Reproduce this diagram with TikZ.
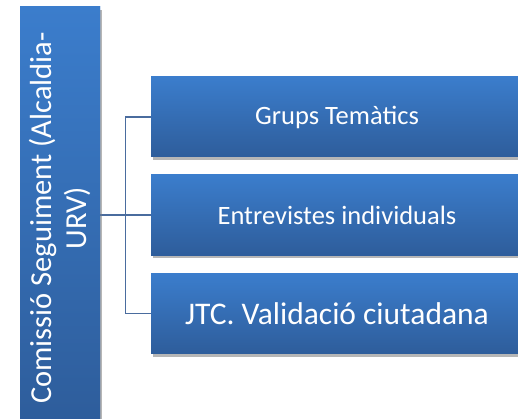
\documentclass[tikz,border=0pt]{standalone}
\usepackage{fontspec}
\setmainfont{Carlito}
\usetikzlibrary{shadows}
\definecolor{btop}{HTML}{3B7DCC}
\definecolor{bbot}{HTML}{2E5D9B}
\definecolor{lnc}{HTML}{4A6C9E}
\begin{document}
\begin{tikzpicture}[x=1pt,y=-1pt,
  box/.style={rectangle, draw=none, top color=btop, bottom color=bbot, text=white,
    inner sep=0pt, drop shadow={shadow xshift=2pt,shadow yshift=-3pt,opacity=0.35}},
  conn/.style={draw=lnc, line width=1.4pt},
  lbl/.style={text=white, align=center, inner sep=0pt}]
\useasboundingbox (0,0) rectangle (518,419);
\node[box, minimum width=80pt, minimum height=416pt] (root) at (60,215) {};
\node[box, minimum width=374pt, minimum height=80pt] (g1) at (338,117) {};
\node[box, minimum width=374pt, minimum height=80pt] (g2) at (338,215) {};
\node[box, minimum width=374pt, minimum height=80pt] (g3) at (338,313.5) {};
\draw[conn] (root.east) -- ++(25,0) coordinate (bus);
\draw[conn] (g1.west) -| (bus) |- (g3.west);
\draw[conn] (bus) -- (g2.west);
\node[box, minimum width=80pt, minimum height=416pt] at (root.center) {};
\node[box, minimum width=374pt, minimum height=80pt] at (g1.center) {};
\node[box, minimum width=374pt, minimum height=80pt] at (g2.center) {};
\node[box, minimum width=374pt, minimum height=80pt] at (g3.center) {};
\node[lbl, rotate=90, font=\fontsize{30.5}{35}\selectfont] (rootlabel) at ([yshift=-3pt]root.center) {Comissió Seguiment (Alcaldia-\\URV)};
\node[lbl, font=\fontsize{26.5}{30}\selectfont] (t1) at ([xshift=-1pt]g1.center) {Grups Temàtics};
\node[lbl, font=\fontsize{26.5}{30}\selectfont] (t2) at ([xshift=-1pt]g2.center) {Entrevistes individuals};
\node[lbl, font=\fontsize{31.5}{36}\selectfont] (t3) at ([xshift=-1pt]g3.center) {JTC. Validació ciutadana};
\end{tikzpicture}
\end{document}
